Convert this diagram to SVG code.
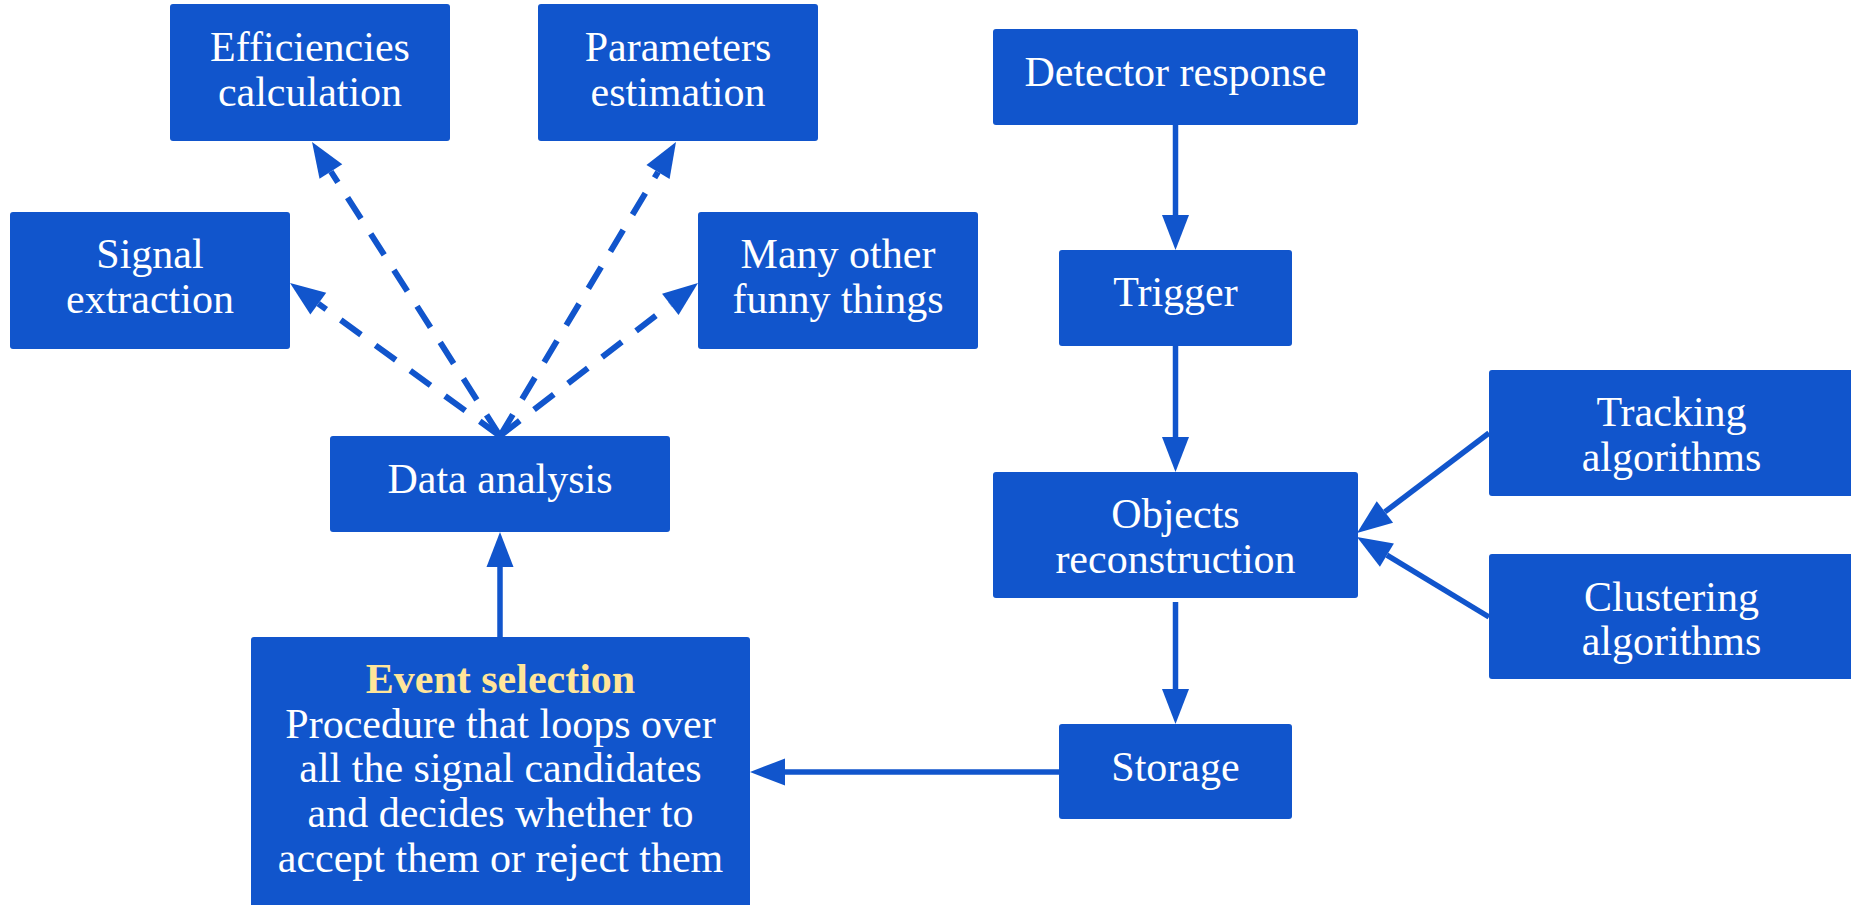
<svg xmlns="http://www.w3.org/2000/svg" width="1851" height="905" viewBox="0 0 1851 905">
  <style>
    .box { fill: #1155cc; }
    .lbl { font-family: "Liberation Serif", "Times New Roman", serif; font-size: 42px; fill: #ffffff; text-anchor: middle; }
    .hl { font-weight: bold; fill: #ffe599; }
    .edge { stroke: #1155cc; stroke-width: 5.5; fill: none; marker-end: url(#arrow); }
    .dash { stroke-width: 6; stroke-dasharray: 25 18; }
  </style>
  <defs>
    <marker id="arrow" markerUnits="userSpaceOnUse" markerWidth="40" markerHeight="30" viewBox="0 -15 36 30" refX="0" refY="0" orient="auto">
      <path d="M0,-13.5 L35,0 L0,13.5 Z" fill="#1155cc"/>
    </marker>
  </defs>
  <rect width="1851" height="905" fill="#ffffff"/>

  <!-- connectors -->
  <g id="connectors">
    <path class="edge" d="M1175.5,125 L1175.5,215"/>
    <path class="edge" d="M1175.5,346 L1175.5,437"/>
    <path class="edge" d="M1175.5,602 L1175.5,689"/>
    <path class="edge" d="M1059,772 L785,772"/>
    <path class="edge" d="M500,637 L500,567"/>
    <path class="edge" d="M1489,433 L1384.9,511.9"/>
    <path class="edge" d="M1489,617 L1386.9,555.1"/>
    <path class="edge dash" d="M500,436 L330.9,171.5"/>
    <path class="edge dash" d="M500,436 L658,172"/>
    <path class="edge dash" d="M500,436 L318.3,303.6"/>
    <path class="edge dash" d="M500,436 L670.3,304.4"/>
  </g>

  <!-- analysis branch -->
  <g id="efficiencies">
    <rect class="box" x="170" y="4" width="280" height="137" rx="3"/>
    <text class="lbl" x="310" y="61">Efficiencies</text>
    <text class="lbl" x="310" y="106">calculation</text>
  </g>
  <g id="parameters">
    <rect class="box" x="538" y="4" width="280" height="137" rx="3"/>
    <text class="lbl" x="678" y="61">Parameters</text>
    <text class="lbl" x="678" y="106">estimation</text>
  </g>
  <g id="signal">
    <rect class="box" x="10" y="212" width="280" height="137" rx="3"/>
    <text class="lbl" x="150" y="268">Signal</text>
    <text class="lbl" x="150" y="313">extraction</text>
  </g>
  <g id="other">
    <rect class="box" x="698" y="212" width="280" height="137" rx="3"/>
    <text class="lbl" x="838" y="268">Many other</text>
    <text class="lbl" x="838" y="313">funny things</text>
  </g>
  <g id="analysis">
    <rect class="box" x="330" y="436" width="340" height="96" rx="3"/>
    <text class="lbl" x="500" y="493">Data analysis</text>
  </g>
  <g id="selection">
    <rect class="box" x="251" y="637" width="499" height="290" rx="3"/>
    <text class="lbl hl" x="500.5" y="693">Event selection</text>
    <text class="lbl" x="500.5" y="738">Procedure that loops over</text>
    <text class="lbl" x="500.5" y="782">all the signal candidates</text>
    <text class="lbl" x="500.5" y="827">and decides whether to</text>
    <text class="lbl" x="500.5" y="872">accept them or reject them</text>
  </g>

  <!-- acquisition chain -->
  <g id="detector">
    <rect class="box" x="993" y="29" width="365" height="96" rx="3"/>
    <text class="lbl" x="1175.5" y="86">Detector response</text>
  </g>
  <g id="trigger">
    <rect class="box" x="1059" y="250" width="233" height="96" rx="3"/>
    <text class="lbl" x="1175.5" y="306">Trigger</text>
  </g>
  <g id="reconstruction">
    <rect class="box" x="993" y="472" width="365" height="126" rx="3"/>
    <text class="lbl" x="1175.5" y="528">Objects</text>
    <text class="lbl" x="1175.5" y="573">reconstruction</text>
  </g>
  <g id="storage">
    <rect class="box" x="1059" y="724" width="233" height="95" rx="3"/>
    <text class="lbl" x="1175.5" y="781">Storage</text>
  </g>
  <g id="tracking">
    <rect class="box" x="1489" y="370" width="365" height="126" rx="3"/>
    <text class="lbl" x="1671.5" y="426">Tracking</text>
    <text class="lbl" x="1671.5" y="471">algorithms</text>
  </g>
  <g id="clustering">
    <rect class="box" x="1489" y="554" width="365" height="125" rx="3"/>
    <text class="lbl" x="1671.5" y="611">Clustering</text>
    <text class="lbl" x="1671.5" y="655">algorithms</text>
  </g>
</svg>
